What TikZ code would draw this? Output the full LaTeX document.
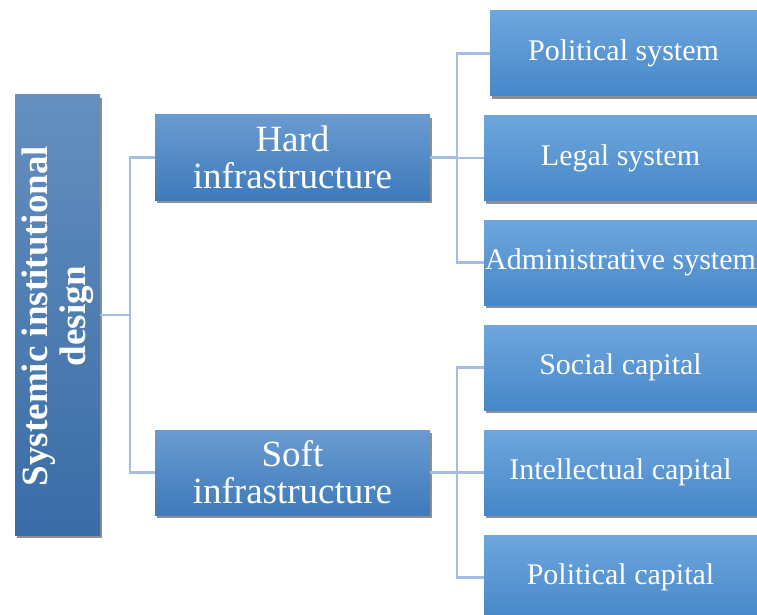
\documentclass[tikz,border=0pt]{standalone}
\usepackage{fontspec}
\setmainfont{Liberation Serif}
\usetikzlibrary{shadows}
\definecolor{rootTop}{HTML}{658FBF}
\definecolor{rootBot}{HTML}{396CA6}
\definecolor{midTop}{HTML}{6A9BD0}
\definecolor{midBot}{HTML}{3E7ABB}
\definecolor{leafTop}{HTML}{6EA6DD}
\definecolor{leafBot}{HTML}{4687C9}
\definecolor{linkc}{HTML}{A3BEE2}
\begin{document}
\begin{tikzpicture}[x=1pt,y=-1pt,
  shbox/.style={rectangle, inner sep=0pt, text=white, align=center,
    drop shadow={shadow xshift=2pt, shadow yshift=-3pt, opacity=0.55, fill=black!80}},
  rootbox/.style={shbox, top color=rootTop, bottom color=rootBot, minimum width=85pt, minimum height=440pt},
  midbox/.style={shbox, top color=midTop, bottom color=midBot, minimum width=275pt, minimum height=85pt,
    font=\fontsize{37}{37}\selectfont},
  leafbox/.style={shbox, top color=leafTop, bottom color=leafBot, minimum width=273pt, minimum height=85pt,
    font=\fontsize{30}{34}\selectfont},
  linkline/.style={draw=linkc, line width=2.5pt}
]
\useasboundingbox[fill=white] (0,0) rectangle (757,615);
\begin{scope}
\clip (0,0) rectangle (757,615);
% root
\node[rootbox] (root) at (57.5,315) {};
\node[rotate=90, text=white, align=center, font=\fontsize{37}{38}\bfseries\selectfont] (rootlabel) at (58,316) {Systemic institutional\\design};
% middle
\node[midbox] (hard) at (292.5,157.5) {Hard\\infrastructure};
\node[midbox] (soft) at (292.5,472.5) {Soft\\infrastructure};
% leaves
\node[leafbox, minimum width=267pt] (ps) at (623.5,53.5) {Political system};
\node[leafbox] (ls) at (620.5,158) {Legal system};
\node[leafbox] (as) at (620.5,262.5) {Administrative system};
\node[leafbox] (sc) at (620.5,367.5) {Social capital};
\node[leafbox] (ic) at (620.5,472.5) {Intellectual capital};
\node[leafbox] (pc) at (620.5,577.5) {Political capital};
% connectors
\coordinate (j0) at (130,315);
\coordinate (j1) at (457,157.5);
\coordinate (j2) at (457,472.5);
\draw[linkline] (root.east) -- (j0);
\draw[linkline] (j0) |- (hard.west);
\draw[linkline] (j0) |- (soft.west);
\draw[linkline] (hard.east) -- (j1);
\draw[linkline] (j1) |- (ps.west);
\draw[linkline] (j1) |- (ls.west);
\draw[linkline] (j1) |- (as.west);
\draw[linkline] (soft.east) -- (j2);
\draw[linkline] (j2) |- (sc.west);
\draw[linkline] (j2) |- (ic.west);
\draw[linkline] (j2) |- (pc.west);
\end{scope}
\end{tikzpicture}
\end{document}
